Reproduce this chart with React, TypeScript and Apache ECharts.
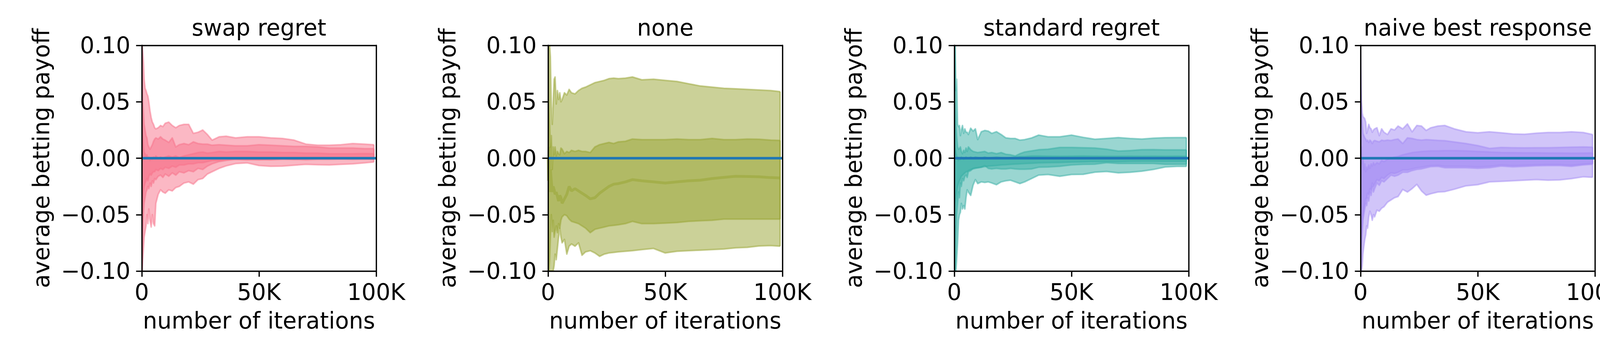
import React, { useEffect, useRef } from "react";
import * as echarts from "echarts";

// ---------------- data ----------------
const TITLES = ["swap regret", "none", "standard regret", "naive best response"];
const COLORS = ["#f77189", "#97a431", "#36ada4", "#a48cf4"];
const ZERO_COLOR = "#1f77b4";
const X_LABEL = "number of iterations";
const Y_LABEL = "average betting payoff";
const X_TICK_FMT = (v: number) => (v === 0 ? "0" : `${v / 1000}K`);

const ITER = [0, 200, 400, 700, 1000, 1400, 1800, 2200, 2600, 3000, 3500, 4000, 4500, 5000, 5500, 6000, 7000, 8000, 9000, 10000, 11500, 13000, 14500, 16000, 18000, 20000, 22000, 24000, 26000, 28000, 30000, 33000, 36000, 40000, 45000, 50000, 55000, 60000, 65000, 70000, 75000, 80000, 85000, 90000, 95000, 99000];
const ZERO_X = [0, 100000];
const ZERO_Y = [0, 0];

// swap regret
const SWAP_B1_UP = [0.1, 0.1, 0.095, 0.085, 0.07, 0.062, 0.06, 0.057, 0.055, 0.05, 0.042, 0.036, 0.032, 0.03, 0.027, 0.026, 0.027, 0.029, 0.028, 0.031, 0.032, 0.029, 0.027, 0.029, 0.03, 0.03, 0.022, 0.023, 0.025, 0.021, 0.016, 0.019, 0.0195, 0.018, 0.019, 0.019, 0.018, 0.0175, 0.016, 0.0125, 0.0115, 0.0115, 0.012, 0.013, 0.0125, 0.012];
const SWAP_B1_LO = [-0.1, -0.09, -0.07, -0.05, -0.04, -0.035, -0.03, -0.028, -0.025, -0.027, -0.022, -0.025, -0.02, -0.022, -0.018, -0.019, -0.016, -0.015, -0.017, -0.014, -0.016, -0.013, -0.015, -0.012, -0.013, -0.011, -0.012, -0.009, -0.01, -0.007, -0.005, -0.003, -0.002, -0.001, -0.001, -0.0015, -0.001, -0.0005, -0.001, -0.0005, 0, 0, 0.0005, 0, 0, 0];
const SWAP_B2_UP = [0.08, 0.07, 0.05, 0.04, 0.03, 0.025, 0.02, 0.018, 0.012, 0.01, 0.008, 0.01, 0.012, 0.015, 0.017, 0.018, 0.017, 0.019, 0.017, 0.016, 0.014, 0.018, 0.01, 0.012, 0.013, 0.012, 0.0145, 0.013, 0.0125, 0.0125, 0.0115, 0.012, 0.0115, 0.011, 0.011, 0.012, 0.0115, 0.011, 0.0105, 0.0105, 0.01, 0.009, 0.009, 0.009, 0.0085, 0.0085];
const SWAP_B2_LO = [-0.1, -0.1, -0.09, -0.08, -0.07, -0.065, -0.06, -0.05, -0.058, -0.045, -0.055, -0.061, -0.05, -0.058, -0.06, -0.04, -0.032, -0.028, -0.03, -0.031, -0.028, -0.029, -0.026, -0.025, -0.022, -0.021, -0.023, -0.019, -0.018, -0.014, -0.012, -0.009, -0.0068, -0.0048, -0.0042, -0.0065, -0.0072, -0.007, -0.0062, -0.0055, -0.0058, -0.006, -0.0055, -0.005, -0.0042, -0.0034];
const SWAP_B3_UP = [0.04, 0.03, 0.02, 0.01, 0.005, 0.004, 0.002, 0.003, 0, 0.001, -0.002, 0, -0.001, 0.001, 0, 0.002, 0, 0.001, 0, 0.001, 0.002, 0.001, 0.002, 0.0005, 0.002, 0.003, 0.004, 0.005, 0.0055, 0.0045, 0.005, 0.006, 0.0055, 0.006, 0.006, 0.0055, 0.0055, 0.005, 0.005, 0.0045, 0.0045, 0.004, 0.004, 0.004, 0.0042, 0.004];
const SWAP_B3_LO = [-0.06, -0.05, -0.04, -0.03, -0.025, -0.022, -0.02, -0.018, -0.02, -0.016, -0.014, -0.015, -0.013, -0.012, -0.012, -0.01, -0.011, -0.009, -0.01, -0.008, -0.009, -0.007, -0.008, -0.006, -0.006, -0.005, -0.005, -0.004, -0.004, -0.003, -0.002, -0.002, -0.001, -0.001, -0.0015, -0.001, -0.0015, -0.001, -0.001, -0.0015, -0.001, -0.001, -0.0008, -0.001, -0.0008, -0.001];

// none
const NONE_B1_UP = [0.1, 0.1, 0.1, 0.1, 0.09, 0.045, 0.03, 0.05, 0.07, 0.072, 0.048, 0.06, 0.052, 0.058, 0.05, 0.052, 0.058, 0.056, 0.061, 0.058, 0.057, 0.06, 0.062, 0.063, 0.065, 0.067, 0.068, 0.069, 0.0705, 0.071, 0.0705, 0.071, 0.072, 0.0695, 0.07, 0.069, 0.068, 0.066, 0.064, 0.063, 0.062, 0.0615, 0.061, 0.0605, 0.06, 0.059];
const NONE_B1_LO = [-0.1, -0.1, -0.1, -0.09, -0.07, -0.05, -0.065, -0.055, -0.07, -0.065, -0.06, -0.066, -0.058, -0.062, -0.055, -0.052, -0.05, -0.051, -0.054, -0.056, -0.057, -0.058, -0.06, -0.062, -0.066, -0.063, -0.062, -0.061, -0.06, -0.0595, -0.059, -0.058, -0.056, -0.058, -0.058, -0.0575, -0.057, -0.056, -0.0555, -0.055, -0.054, -0.054, -0.054, -0.054, -0.054, -0.054];
const NONE_B2_UP = [0.1, 0.08, 0.05, 0.03, 0.01, 0.02, -0.01, 0.01, 0.003, 0.01, 0.002, 0.006, 0.004, 0.003, 0.009, 0.008, 0.004, 0.006, 0.005, 0.007, 0.006, 0.007, 0.006, 0.006, 0.005, 0.01, 0.012, 0.013, 0.014, 0.013, 0.0145, 0.015, 0.017, 0.0165, 0.0165, 0.0165, 0.017, 0.0165, 0.0165, 0.0175, 0.0165, 0.0165, 0.017, 0.0168, 0.016, 0.0158];
const NONE_B2_LO = [-0.1, -0.1, -0.1, -0.1, -0.1, -0.1, -0.1, -0.1, -0.095, -0.085, -0.09, -0.08, -0.07, -0.062, -0.07, -0.075, -0.072, -0.085, -0.078, -0.076, -0.078, -0.075, -0.086, -0.083, -0.082, -0.084, -0.087, -0.085, -0.084, -0.0835, -0.083, -0.0825, -0.082, -0.081, -0.08, -0.084, -0.0825, -0.082, -0.0815, -0.081, -0.0805, -0.0795, -0.079, -0.0778, -0.0775, -0.078];
const NONE_MID = [0.0, -0.02, 0.01, -0.03, -0.01, -0.02, -0.03, -0.025, -0.028, -0.032, -0.03, -0.034, -0.038, -0.033, -0.035, -0.04, -0.036, -0.032, -0.025, -0.029, -0.027, -0.029, -0.031, -0.033, -0.036, -0.035, -0.031, -0.028, -0.025, -0.023, -0.0225, -0.021, -0.019, -0.02, -0.021, -0.022, -0.021, -0.02, -0.0195, -0.018, -0.017, -0.016, -0.0162, -0.0165, -0.0172, -0.0175];

// standard regret
const STD_B1_UP = [0.1, 0.07, 0.1, 0.06, 0.07, 0.03, 0.028, 0.029, 0.02, 0.025, 0.029, 0.022, 0.026, 0.023, 0.023, 0.021, 0.0266, 0.024, 0.026, 0.0165, 0.0234, 0.0246, 0.024, 0.022, 0.0235, 0.021, 0.018, 0.0175, 0.0175, 0.016, 0.0165, 0.018, 0.0205, 0.019, 0.019, 0.0205, 0.0185, 0.0168, 0.0175, 0.0183, 0.0175, 0.017, 0.0178, 0.0182, 0.0183, 0.0183];
const STD_B1_LO = [-0.08, -0.06, -0.1, -0.07, -0.05, -0.04, -0.03, -0.035, -0.022, -0.025, -0.018, -0.02, -0.016, -0.015, -0.017, -0.012, -0.011, -0.009, -0.0085, -0.0085, -0.008, -0.0065, -0.009, -0.0095, -0.009, -0.0095, -0.0095, -0.009, -0.0095, -0.0098, -0.0098, -0.0095, -0.008, -0.0078, -0.0072, -0.006, -0.0055, -0.0053, -0.004, -0.0047, -0.0047, -0.0047, -0.0047, -0.0054, -0.0054, -0.0054];
const STD_B2_UP = [0.06, 0.1, 0.05, 0.03, 0.02, 0.01, 0.008, 0.0085, 0.01, 0.006, 0.004, 0.007, 0.005, 0.009, 0.006, 0.01, 0.0075, 0.006, 0.0055, 0.005, 0.0055, 0.006, 0.0045, 0.005, 0.004, 0.005, 0.0035, 0.003, 0.002, 0.004, 0.0055, 0.0065, 0.0075, 0.008, 0.0095, 0.0095, 0.0093, 0.009, 0.008, 0.0063, 0.0068, 0.0075, 0.0076, 0.0074, 0.0074, 0.0074];
const STD_B2_LO = [-0.1, -0.1, -0.1, -0.1, -0.09, -0.075, -0.055, -0.05, -0.048, -0.04, -0.045, -0.042, -0.045, -0.035, -0.028, -0.03, -0.033, -0.024, -0.019, -0.0225, -0.021, -0.0215, -0.021, -0.022, -0.0235, -0.021, -0.02, -0.0195, -0.021, -0.0225, -0.021, -0.018, -0.015, -0.0145, -0.016, -0.0145, -0.0143, -0.0124, -0.0118, -0.013, -0.0125, -0.0115, -0.01, -0.0078, -0.0073, -0.0073];
const STD_B3_UP = [0.03, 0.02, 0.01, 0.005, 0.002, 0.0, -0.002, 0.0, -0.001, 0.001, 0.0, -0.001, 0.0, 0.001, 0.0, 0.0, 0.001, 0.0, 0.001, 0.0005, 0.0, 0.001, 0.0, 0.0005, 0.001, 0.0005, 0.0, 0.0005, 0.001, 0.0015, 0.0015, 0.002, 0.002, 0.0018, 0.0017, 0.0018, 0.002, 0.0018, 0.0017, 0.0017, 0.0018, 0.0017, 0.0018, 0.0017, 0.0018, 0.0017];
const STD_B3_LO = [-0.06, -0.05, -0.04, -0.035, -0.03, -0.025, -0.022, -0.02, -0.018, -0.016, -0.015, -0.014, -0.013, -0.012, -0.012, -0.011, -0.01, -0.0095, -0.009, -0.0085, -0.008, -0.0075, -0.007, -0.0068, -0.0065, -0.006, -0.0058, -0.0055, -0.0052, -0.005, -0.0048, -0.0045, -0.0042, -0.004, -0.0038, -0.0035, -0.0033, -0.003, -0.003, -0.003, -0.0028, -0.0027, -0.0027, -0.0028, -0.0028, -0.0028];

// naive best response
const NBR_B1_UP = [0.1, 0.063, 0.05, 0.04, 0.037, 0.036, 0.035, 0.032, 0.022, 0.025, 0.03, 0.027, 0.026, 0.023, 0.025, 0.026, 0.027, 0.02, 0.026, 0.023, 0.021, 0.026, 0.025, 0.0285, 0.026, 0.0304, 0.0234, 0.029, 0.0285, 0.0246, 0.027, 0.0285, 0.029, 0.026, 0.0234, 0.0225, 0.0234, 0.0225, 0.0215, 0.0212, 0.0222, 0.0228, 0.0228, 0.0234, 0.0228, 0.021];
const NBR_B1_LO = [-0.1, -0.1, -0.08, -0.065, -0.055, -0.05, -0.045, -0.04, -0.042, -0.035, -0.038, -0.03, -0.033, -0.025, -0.03, -0.027, -0.022, -0.024, -0.02, -0.021, -0.018, -0.015, -0.016, -0.015, -0.0125, -0.0125, -0.011, -0.01, -0.0095, -0.0085, -0.0075, -0.0073, -0.0085, -0.0085, -0.0085, -0.009, -0.0085, -0.007, -0.0077, -0.0073, -0.0068, -0.0066, -0.0066, -0.0073, -0.006, -0.0054];
const NBR_B2_UP = [0.08, 0.06, 0.04, 0.03, 0.022, 0.02, 0.018, 0.017, 0.015, 0.016, 0.014, 0.016, 0.015, 0.013, 0.015, 0.0157, 0.015, 0.0145, 0.016, 0.0155, 0.016, 0.0157, 0.0165, 0.017, 0.013, 0.018, 0.0175, 0.0165, 0.016, 0.0165, 0.0162, 0.0158, 0.0155, 0.0144, 0.013, 0.0112, 0.0087, 0.0095, 0.0093, 0.0092, 0.0093, 0.0093, 0.0095, 0.0098, 0.01, 0.0098];
const NBR_B2_LO = [-0.1, -0.1, -0.1, -0.095, -0.085, -0.078, -0.072, -0.068, -0.06, -0.062, -0.052, -0.047, -0.05, -0.055, -0.05, -0.052, -0.046, -0.047, -0.0443, -0.043, -0.039, -0.037, -0.035, -0.034, -0.0277, -0.03, -0.027, -0.0232, -0.029, -0.0328, -0.0315, -0.03, -0.0296, -0.0275, -0.0245, -0.0235, -0.021, -0.0205, -0.02, -0.0195, -0.019, -0.0195, -0.0192, -0.0181, -0.0165, -0.0169];
const NBR_B3_UP = [0.02, 0.0, 0.01, -0.005, 0.0, -0.01, -0.005, -0.012, -0.008, -0.01, -0.006, -0.009, -0.005, -0.007, -0.004, -0.006, -0.004, -0.005, -0.002, -0.003, -0.001, 0.0, 0.001, 0.0015, 0.003, 0.004, 0.005, 0.0055, 0.006, 0.0062, 0.0065, 0.0065, 0.0068, 0.0068, 0.0065, 0.006, 0.0055, 0.005, 0.0049, 0.0048, 0.0048, 0.0046, 0.0046, 0.0044, 0.0045, 0.0047];
const NBR_B3_LO = [-0.09, -0.08, -0.07, -0.06, -0.05, -0.045, -0.04, -0.036, -0.035, -0.031, -0.032, -0.027, -0.028, -0.022, -0.025, -0.023, -0.019, -0.02, -0.017, -0.018, -0.015, -0.013, -0.0135, -0.0125, -0.0105, -0.0105, -0.0095, -0.0085, -0.008, -0.0072, -0.0065, -0.0063, -0.0072, -0.0072, -0.0072, -0.0077, -0.0072, -0.006, -0.0066, -0.0062, -0.0058, -0.0056, -0.0056, -0.0062, -0.0052, -0.0046];

const PANEL_BANDS: number[][][][] = [
  [[SWAP_B1_LO, SWAP_B1_UP], [SWAP_B2_LO, SWAP_B2_UP], [SWAP_B3_LO, SWAP_B3_UP]],
  [[NONE_B1_LO, NONE_B1_UP], [NONE_B2_LO, NONE_B2_UP]],
  [[STD_B1_LO, STD_B1_UP], [STD_B2_LO, STD_B2_UP], [STD_B3_LO, STD_B3_UP]],
  [[NBR_B1_LO, NBR_B1_UP], [NBR_B2_LO, NBR_B2_UP], [NBR_B3_LO, NBR_B3_UP]],
];
const PANEL_MID: (number[] | null)[] = [null, NONE_MID, null, null];

// ---------------- layout ----------------
const FONT = "DejaVu Sans";
const FS = 58;
const GRID_LEFT0 = 363;
const GRID_PITCH = 1040;
const GRID_W = 600;
const GRID_TOP = 116;
const GRID_H = 577;
const SPINE = 3.3;
const ALPHA = 0.5;

const rgba = (hex: string, a: number) => {
  const n = parseInt(hex.slice(1), 16);
  return `rgba(${(n >> 16) & 255},${(n >> 8) & 255},${n & 255},${a})`;
};

const yFmt = (v: number) => {
  const s = Math.abs(v).toFixed(2);
  return v < -1e-9 ? "\u2212" + s : s;
};

function bandSeries(p: number, b: number, lo: number[], up: number[], color: string) {
  const fill = rgba(color, ALPHA);
  return {
    type: "custom",
    name: `${TITLES[p]} band ${b + 1}`,
    coordinateSystem: "cartesian2d",
    xAxisIndex: 2 * p,
    yAxisIndex: 2 * p,
    silent: true,
    clip: true,
    z: 2,
    data: ITER.map((x, i) => [x, lo[i], up[i]]),
    encode: { x: 0, y: [1, 2] },
    renderItem: (params: any, api: any) => {
      if (params.dataIndex !== 0) return null;
      const upPts = ITER.map((x, i) => api.coord([x, up[i]]));
      const loPts = ITER.map((x, i) => api.coord([x, lo[i]]));
      const poly = upPts.concat(loPts.slice().reverse());
      const last = ITER.length - 1;
      return {
        type: "group",
        children: [
          { type: "polygon", shape: { points: poly }, style: { fill, stroke: "none" } },
          { type: "polyline", shape: { points: upPts }, style: { fill: "none", stroke: fill, lineWidth: 4, lineJoin: "round" } },
          { type: "polyline", shape: { points: loPts }, style: { fill: "none", stroke: fill, lineWidth: 4, lineJoin: "round" } },
          { type: "line", shape: { x1: upPts[last][0], y1: upPts[last][1], x2: loPts[last][0], y2: loPts[last][1] }, style: { stroke: fill, lineWidth: 4 } },
        ],
      };
    },
  };
}

function buildOption() {
  const grid: any[] = [];
  const xAxis: any[] = [];
  const yAxis: any[] = [];
  const series: any[] = [];
  const title: any[] = [];
  const txt = { fontFamily: FONT, fontSize: FS, color: "#000" };
  const spineLine = { show: true, onZero: false, lineStyle: { color: "#000", width: SPINE } };

  for (let p = 0; p < 4; p++) {
    const left = GRID_LEFT0 + p * GRID_PITCH;
    grid.push({ left, top: GRID_TOP, width: GRID_W, height: GRID_H, containLabel: false });
    title.push({
      text: TITLES[p],
      left: left + GRID_W / 2,
      top: 42,
      padding: 0,
      textAlign: "center",
      textVerticalAlign: "top",
      textStyle: { ...txt, fontWeight: "normal" },
    });
    xAxis.push({
      type: "value", gridIndex: p, position: "bottom", min: 0, max: 100000, interval: 50000, z: 10,
      axisLine: spineLine,
      axisTick: { show: true, length: 14.6, lineStyle: { color: "#000", width: SPINE } },
      axisLabel: { ...txt, margin: 25, formatter: X_TICK_FMT },
      splitLine: { show: false },
      name: X_LABEL, nameLocation: "middle", nameGap: 98, nameTextStyle: txt,
    });
    xAxis.push({
      type: "value", gridIndex: p, position: "top", min: 0, max: 100000, z: 10,
      axisLine: spineLine, axisTick: { show: false }, axisLabel: { show: false }, splitLine: { show: false },
    });
    yAxis.push({
      type: "value", gridIndex: p, position: "left", min: -0.1, max: 0.1, interval: 0.05, z: 10,
      axisLine: spineLine,
      axisTick: { show: true, length: 14.6, lineStyle: { color: "#000", width: SPINE } },
      axisLabel: { ...txt, margin: 29, formatter: yFmt },
      splitLine: { show: false },
      name: Y_LABEL, nameLocation: "middle", nameGap: 228, nameTextStyle: txt,
    });
    yAxis.push({
      type: "value", gridIndex: p, position: "right", min: -0.1, max: 0.1, z: 10,
      axisLine: spineLine, axisTick: { show: false }, axisLabel: { show: false }, splitLine: { show: false },
    });

    const color = COLORS[p];
    PANEL_BANDS[p].forEach(([lo, up], b) => series.push(bandSeries(p, b, lo, up, color)));
    const mid = PANEL_MID[p];
    if (mid) {
      series.push({
        type: "line", xAxisIndex: 2 * p, yAxisIndex: 2 * p, symbol: "none", silent: true, z: 3,
        name: `${TITLES[p]} middle`,
        lineStyle: { color: rgba(color, ALPHA), width: 7 },
        data: ITER.map((x, i) => [x, mid[i]]),
      });
    }
    series.push({
      type: "line", xAxisIndex: 2 * p, yAxisIndex: 2 * p, symbol: "none", silent: true, z: 5,
      name: "zero",
      lineStyle: { color: ZERO_COLOR, width: 6.5 },
      data: ZERO_X.map((x, i) => [x, ZERO_Y[i]]),
    });
  }

  return { animation: false, backgroundColor: "#fff", title, grid, xAxis, yAxis, series };
}

export default function App() {
  const ref = useRef<HTMLDivElement>(null);
  useEffect(() => {
    document.body.style.margin = "0";
    document.documentElement.style.overflow = "hidden";
    document.body.style.overflow = "hidden";
    if (!ref.current) return;
    const chart = echarts.init(ref.current, undefined, { renderer: "svg" });
    chart.setOption(buildOption() as any);
    return () => chart.dispose();
  }, []);
  return (
    <div
      ref={ref}
      style={{ position: "fixed", left: 0, top: 0, width: 4200, height: 900, background: "#fff" }}
    />
  );
}
